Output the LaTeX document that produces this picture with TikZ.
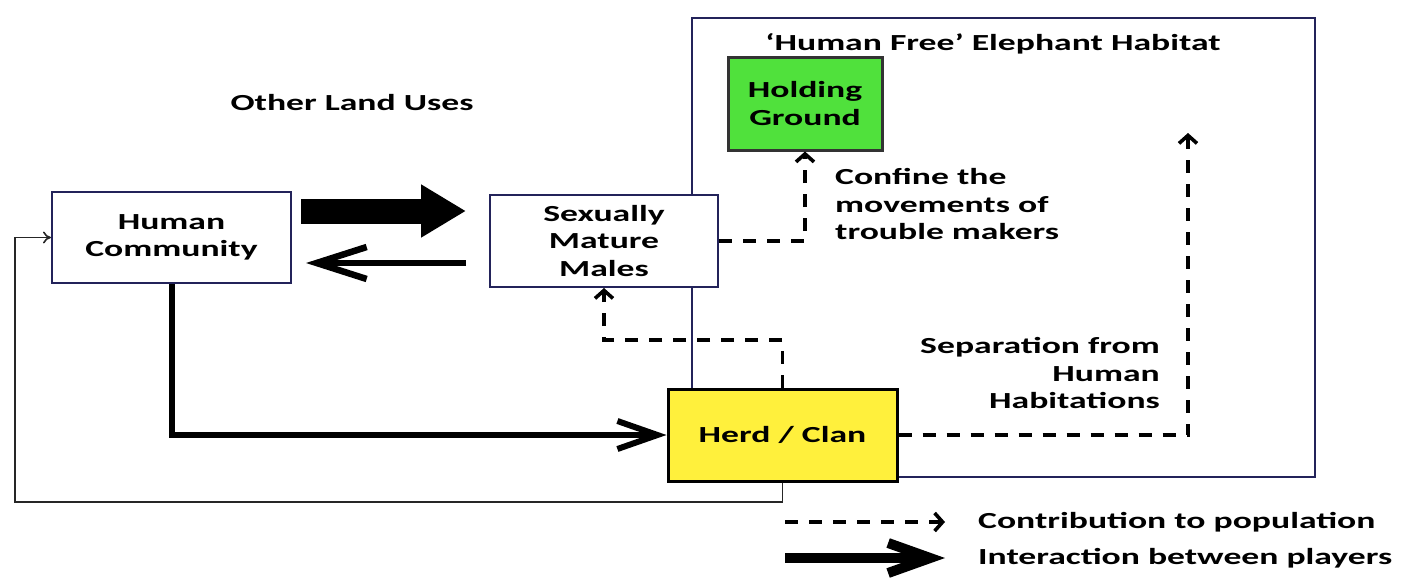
\documentclass[tikz,border=0pt]{standalone}
\usepackage{fontspec}
\setmainfont{Carlito}[FakeStretch=1.55]
\usepackage{tikz}
\usetikzlibrary{arrows.meta}
\usetikzlibrary{calc}
\definecolor{navy}{RGB}{35,35,90}
\definecolor{holdgreen}{RGB}{80,225,60}
\definecolor{herdyellow}{RGB}{255,240,60}
\tikzstyle{lbl}=[inner sep=0pt, align=center, font=\bfseries\fontsize{23}{27.5}\selectfont]
\tikzstyle{box}=[lbl, draw=navy, line width=2pt, fill=white]
\tikzstyle{contrib}=[line width=3.6pt, dash pattern=on 13pt off 11pt, -{Straight Barb[length=8pt,width=18pt]}]
\tikzstyle{interact}=[line width=6pt, -{Straight Barb[length=40pt,width=28pt]}]
\tikzstyle{backarrow}=[line width=6.5pt, -{Straight Barb[length=50pt,width=32pt]}]
\tikzstyle{blockarrow}=[line width=25pt, -{Triangle[length=45pt,width=50pt]}]
\tikzstyle{legendarrow}=[line width=10pt, -{Straight Barb[length=42pt,width=30pt]}]
\tikzstyle{feedback}=[line width=1.6pt, draw=black!85, -{To[length=8pt,width=12pt]}]

\begin{document}
\begin{tikzpicture}[x=1pt,y=-1pt]
\useasboundingbox (0,0) rectangle (1425,582);
\draw[navy, line width=2pt] (692,18) rectangle (1315,477);
\node[lbl] (title) at (993,44) {‘Human Free’ Elephant Habitat};
\node[lbl] (otherland) at (352,103) {Other Land Uses};

\node[box, minimum width=239pt, minimum height=91pt] (hc) at (171.5,237.5) {Human\\Community};
\node[box, minimum width=228pt, minimum height=92pt] (smm) at (604,241) {Sexually\\Mature\\Males};
\node[box, fill=holdgreen, draw=black!80, line width=3pt, minimum width=154pt, minimum height=93pt] (hg) at (805,103.5) {Holding\\Ground};
\node[box, fill=herdyellow, draw=black, line width=3pt, minimum width=229pt, minimum height=92pt] (herd) at (782.5,435) {Herd / Clan};

\node[lbl, anchor=west, align=left] (confine) at (835,204) {Confine the\\movements of\\trouble makers};
\node[lbl, anchor=east, align=right] (separation) at (1160,373) {Separation from\\Human\\Habitations};

\coordinate (upper) at (0,211);
\coordinate (lower) at (0,263);
\draw[blockarrow, shorten <=9pt, shorten >=23pt] (hc.east |- upper) -- (smm.west |- upper);
\draw[backarrow, shorten <=23pt, shorten >=14pt] (smm.west |- lower) -- (hc.east |- lower);
\draw[interact] (hc.south) |- (herd.west);

\coordinate (fb) at (15,502);
\draw[feedback] (herd.south) |- (fb) |- (hc.west);

\coordinate (split) at (604,340);
\draw[contrib] (herd.north) |- (split) -- (smm.south);
\draw[contrib] (smm.east) -| (hg.south);
\coordinate (sep) at (1188,133);
\draw[contrib] (herd.east) -| (sep);

\coordinate (dashfrom) at (785,522);
\coordinate (dashto) at (945,522);
\draw[contrib] (dashfrom) -- (dashto);
\node[lbl, anchor=west] (contribtxt) at (978,522) {Contribution to population};
\coordinate (solidfrom) at (785,558);
\coordinate (solidto) at (945,558);
\draw[legendarrow] (solidfrom) -- (solidto);
\node[lbl, anchor=west] (interacttxt) at (978,558) {Interaction between players};
\end{tikzpicture}
\end{document}
